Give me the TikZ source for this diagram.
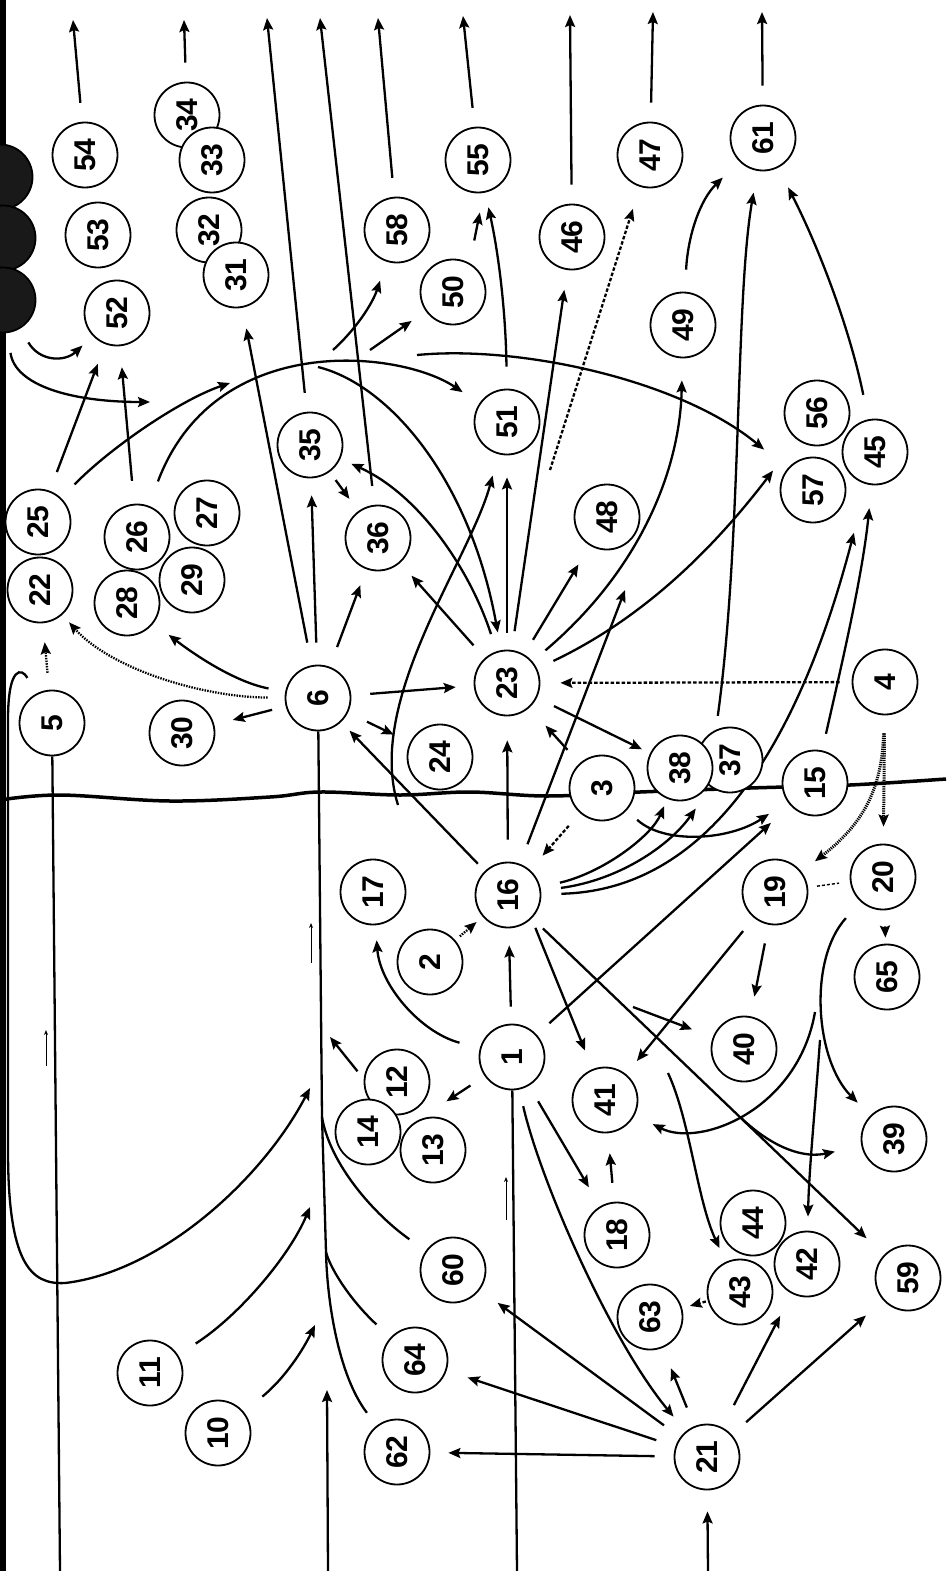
\documentclass[tikz,border=0pt]{standalone}
\usepackage{fontspec}
\setsansfont{Liberation Sans}
\usetikzlibrary{arrows.meta,backgrounds}
\tikzset{
  num/.style={circle,draw,line width=1.8pt,fill=white,minimum size=65pt,inner sep=0pt,
              font=\fontsize{30}{30}\selectfont\sffamily\bfseries,rotate=90},
  blot/.style={circle,draw,line width=1.8pt,fill=black!90,minimum size=65pt,inner sep=0pt},
  arr/.style={-{Stealth[length=12pt,width=10pt,inset=2pt]},line width=2.3pt},
  ln/.style={line width=2.3pt},
  dsharr/.style={arr,dash pattern=on 3.5pt off 2pt},
  hatcharr/.style={arr,line width=3pt,dash pattern=on 1.2pt off 1pt},
  dotarr/.style={arr,dash pattern=on 1.5pt off 1.2pt},
  dshln/.style={line width=1.4pt,dash pattern=on 3pt off 2pt},
  flowtick/.style={-{Stealth[length=5pt,width=4pt]},line width=1pt}
}
\begin{document}
\begin{tikzpicture}[x=1pt,y=-1pt]
  \useasboundingbox (0,0) rectangle (946,1571);
  % blotted circles at the edge
  \node[blot] (n7) at (0,177) {};
  \node[blot] (n8) at (3,238) {};
  \node[blot] (n9) at (3,300) {};
  % numbered circles
  \node[num] (n54) at (85,155) {54};
  \node[num] (n53) at (98,235) {53};
  \node[num] (n52) at (117,313) {52};
  \node[num] (n34) at (187,115) {34};
  \node[num] (n33) at (212,160) {33};
  \node[num] (n32) at (209,230) {32};
  \node[num] (n31) at (236,275) {31};
  \node[num] (n58) at (397,230) {58};
  \node[num] (n50) at (453,292) {50};
  \node[num] (n55) at (478,160) {55};
  \node[num] (n46) at (572,237) {46};
  \node[num] (n47) at (650,155) {47};
  \node[num] (n61) at (763,138) {61};
  \node[num] (n49) at (683,325) {49};
  \node[num] (n51) at (507,422) {51};
  \node[num] (n48) at (607,517) {48};
  \node[num] (n56) at (817,413) {56};
  \node[num] (n45) at (875,452) {45};
  \node[num] (n57) at (813,490) {57};
  \node[num] (n35) at (310,445) {35};
  \node[num] (n36) at (378,538) {36};
  \node[num] (n25) at (38,522) {25};
  \node[num] (n22) at (40,590) {22};
  \node[num] (n26) at (137,537) {26};
  \node[num] (n27) at (207,513) {27};
  \node[num] (n28) at (127,603) {28};
  \node[num] (n29) at (192,580) {29};
  \node[num] (n30) at (182,733) {30};
  \node[num] (n6)  at (318,698) {6};
  \node[num] (n5)  at (52,723) {5};
  \node[num] (n24) at (440,757) {24};
  \node[num] (n23) at (507,683) {23};
  \node[num] (n4)  at (885,682) {4};
  \node[num] (n3)  at (602,788) {3};
  \node[num] (n37) at (730,760) {37};
  \node[num] (n38) at (680,768) {38};
  \node[num] (n15) at (815,783) {15};
  \node[num] (n16) at (508,895) {16};
  \node[num] (n17) at (373,892) {17};
  \node[num] (n2)  at (430,962) {2};
  \node[num] (n19) at (775,892) {19};
  \node[num] (n20) at (883,877) {20};
  \node[num] (n65) at (887,977) {65};
  \node[num] (n1)  at (512,1057) {1};
  \node[num] (n12) at (397,1082) {12};
  \node[num] (n14) at (368,1132) {14};
  \node[num] (n13) at (433,1150) {13};
  \node[num] (n41) at (605,1100) {41};
  \node[num] (n40) at (744,1049) {40};
  \node[num] (n39) at (894,1139) {39};
  \node[num] (n18) at (617,1235) {18};
  \node[num] (n44) at (753,1223) {44};
  \node[num] (n42) at (807,1264) {42};
  \node[num] (n43) at (740,1292) {43};
  \node[num] (n63) at (650,1317) {63};
  \node[num] (n59) at (908,1278) {59};
  \node[num] (n21) at (707,1457) {21};
  \node[num] (n60) at (453,1270) {60};
  \node[num] (n64) at (415,1360) {64};
  \node[num] (n62) at (397,1452) {62};
  \node[num] (n11) at (150,1373) {11};
  \node[num] (n10) at (218,1433) {10};

  \begin{scope}[on background layer]
    \fill[white] (0,0) rectangle (946,1571);
    \fill (0,0) rectangle (6,1571);
    \draw[line width=3.5pt] plot[smooth,tension=0.6] coordinates {(0,800) (60,795) (170,801)
      (270,797) (320,792) (400,795) (470,792) (547,796) (640,792) (750,788) (850,785) (946,779)};
    % free ends
    \coordinate (t54) at (73,20);  \coordinate (t34) at (184,20); \coordinate (t35) at (267,18);
    \coordinate (t36) at (320,18); \coordinate (t58) at (378,18); \coordinate (t55) at (463,16);
    \coordinate (t46) at (570,15); \coordinate (t47) at (653,12); \coordinate (t61) at (762,12);
    \coordinate (b5) at (60,1571);  \coordinate (b1) at (517,1571);
    \coordinate (b6) at (328,1571); \coordinate (b21) at (708,1571); \coordinate (a6) at (327,1390);
    \coordinate (k1) at (322,1117); \coordinate (k2) at (326,1252);
    \coordinate (e11) at (310,1207); \coordinate (e10) at (315,1325);
    \coordinate (e12) at (330,1037); \coordinate (e5) at (310,1088);
    \coordinate (e25) at (230,383); \coordinate (e9) at (150,402); \coordinate (e16) at (625,590);
    \coordinate (a23) at (318,367); \coordinate (a58) at (333,350);
    \coordinate (a50) at (370,350); \coordinate (a57) at (417,355);
    \coordinate (d47) at (550,470); \coordinate (s51) at (398,805);
    \coordinate (br39) at (740,1117); \coordinate (br41) at (815,1012); \coordinate (br42) at (820,1040);
    \coordinate (f40) at (633,1007); \coordinate (f43) at (668,1073);
    % up the page
    \foreach \a/\b in {n54/t54,n34/t34,n35/t35,n36/t36,n58/t58,n55/t55,n46/t46,n47/t47,n61/t61}
      \draw[arr,shorten <=19pt] (\a) -- (\b);
    % from the bottom edge
    \draw[ln] (b5) -- (n5);
    \draw[ln] (b1) -- (n1);
    \draw[arr] (b6) -- (a6);
    \draw[arr,shorten >=21pt] (b21) -- (n21);
    \draw[flowtick] (46,1066) -- (46,1030);
    \draw[flowtick] (311,963) -- (311,923);
    \draw[flowtick] (506,1220) -- (506,1177);
    % trunk under 6
    \draw[ln] (n6) -- (k1) -- (k2);
    \draw[ln,shorten <=20pt] (n60) .. controls (375,1215) and (330,1165) .. (k1);
    \draw[ln,shorten <=19pt] (n64) .. controls (350,1300) and (330,1268) .. (k2);
    \draw[ln,shorten <=16pt] (n62) .. controls (338,1375) and (327,1300) .. (k2);
    \draw[arr,shorten <=21pt] (n11) .. controls (240,1315) and (290,1255) .. (e11);
    \draw[arr,shorten <=24pt] (n10) .. controls (285,1378) and (303,1350) .. (e10);
    \draw[arr,shorten <=10pt] (n12.85) -- (e12);
    \draw[arr,shorten <=18pt] (n5) .. controls (22,668) and (8,665) .. (8,720) -- (8,1150)
      .. controls (8,1262) and (30,1285) .. (65,1283) .. controls (160,1272) and (262,1180) .. (e5);
    \draw[dotarr,shorten <=17pt,shorten >=19pt] (n5) -- (n22);
    % top left
    \draw[arr,shorten <=16pt,shorten >=14pt] (n9) .. controls (40,362) and (65,362) .. (n52);
    \draw[arr,shorten <=20pt] (n9) .. controls (15,385) and (70,402) .. (e9);
    \draw[arr,shorten <=20pt,shorten >=21pt] (n25) -- (n52);
    \draw[arr,shorten <=23pt,shorten >=21pt] (n26) -- (n52);
    \draw[arr,shorten <=19pt] (n25) .. controls (110,448) and (180,400) .. (e25);
    \draw[arr,shorten <=26pt,shorten >=20pt] (n26) .. controls (215,330) and (400,350) .. (n51);
    \draw[arr,shorten >=20pt] (a58) .. controls (355,330) and (372,305) .. (n58);
    \draw[arr,shorten >=17pt] (a50) -- (n50);
    \draw[arr,shorten >=30pt] (a57) .. controls (520,345) and (680,380) .. (n57);
    \draw[arr,shorten >=18pt] (a23) .. controls (390,385) and (470,480) .. (n23);
    % 6
    \draw[dotarr,shorten <=17pt,shorten >=10pt] (n6) .. controls (200,697) and (110,668) .. (n22);
    \draw[arr,shorten <=17pt,shorten >=19pt] (n6) .. controls (235,682) and (195,655) .. (n28);
    \draw[arr,shorten <=14pt,shorten >=19pt] (n6) -- (n30);
    \draw[arr,shorten <=22pt,shorten >=17pt] (n6) -- (n35);
    \draw[arr,shorten <=21pt,shorten >=17pt] (n6) -- (n36);
    \draw[arr,shorten <=23pt,shorten >=21pt] (n6) -- (n31);
    \draw[arr,shorten <=19pt,shorten >=18pt] (n6) -- (n23);
    \draw[arr,shorten <=21pt,shorten >=18pt] (n6) -- (n24);
    \draw[arr,shorten <=10pt,shorten >=12pt] (n16) -- (n6);
    \draw[arr,shorten <=10pt,shorten >=15pt] (n35) -- (n36);
    % 23
    \draw[arr,shorten <=17pt,shorten >=17pt] (n23) -- (n36);
    \draw[arr,shorten <=18pt,shorten >=12pt] (n23) .. controls (470,570) and (420,495) .. (n35);
    \draw[arr,shorten <=17pt,shorten >=22pt] (n23) -- (n51);
    \draw[arr,shorten <=19pt,shorten >=20pt] (n23) -- (n46);
    \draw[arr,shorten <=17pt,shorten >=22pt] (n23) -- (n48);
    \draw[arr,shorten <=17pt,shorten >=22pt] (n23) .. controls (640,570) and (680,470) .. (n49);
    \draw[arr,shorten <=18pt,shorten >=39pt] (n23) .. controls (650,615) and (720,540) .. (n56);
    \draw[arr,shorten <=19pt,shorten >=9pt] (n23) -- (n38);
    \draw[arr,shorten >=22pt] (s51) .. controls (365,700) and (470,560) .. (n51);
    \draw[dsharr,shorten >=23pt] (d47) -- (n47);
    % to 55 and 61
    \draw[arr,shorten <=22pt,shorten >=15pt] (n51) .. controls (506,320) and (500,260) .. (n55);
    \draw[arr,shorten <=23pt,shorten >=20pt] (n50.-30) -- (n55.190);
    \draw[arr,shorten <=22pt,shorten >=23pt] (n49) .. controls (688,235) and (700,200) .. (n61);
    \draw[arr,shorten <=14pt,shorten >=22pt] (n37.25) .. controls (742,540) and (735,300) .. (n61);
    \draw[arr,shorten <=25pt,shorten >=22pt] (n45) .. controls (850,330) and (820,250) .. (n61);
    % 3, 4, 15
    \draw[arr,shorten <=18pt,shorten >=24pt] (n3) -- (n23);
    \draw[dsharr,shorten <=17pt,shorten >=19pt] (n3) -- (n16);
    \draw[arr,shorten <=14pt,shorten >=22pt] (n3) .. controls (665,845) and (730,840) .. (n15);
    \draw[arr,shorten <=17pt,shorten >=23pt] (n15) .. controls (838,680) and (862,580) .. (n45);
    \draw[dsharr,shorten <=12pt,shorten >=20pt] (n4) -- (n23);
    \draw[hatcharr,shorten <=18pt,shorten >=17pt] (n4) -- (n20);
    \draw[hatcharr,shorten <=18pt,shorten >=17pt] (n4) .. controls (882,790) and (862,825) .. (n19);
    % 16
    \draw[arr,shorten <=22pt,shorten >=24pt] (n16) -- (n23);
    \draw[arr,shorten <=21pt] (n16) -- (e16);
    \draw[arr,shorten <=20pt,shorten >=8pt] (n16) .. controls (605,872) and (652,835) .. (n38);
    \draw[arr,shorten <=20pt,shorten >=26pt] (n16) .. controls (620,880) and (670,845) .. (n37);
    \draw[arr,shorten <=20pt,shorten >=50pt] (n16) .. controls (720,890) and (805,720) .. (n45);
    \draw[arr,shorten <=10pt,shorten >=20pt] (n16.-135) -- (n41);
    \draw[arr,shorten <=15pt,shorten >=24pt] (n16) -- (n59);
    \draw[arr,shorten >=27pt] (br39) .. controls (775,1150) and (805,1158) .. (n39);
    \draw[dotarr,shorten <=6pt,shorten >=8pt] (n2) -- (n16);
    % 1
    \draw[arr,shorten <=17pt,shorten >=17pt] (n1) -- (n16);
    \draw[arr,shorten <=21pt,shorten >=15pt] (n1) .. controls (420,1032) and (380,985) .. (n17);
    \draw[arr,shorten <=17pt,shorten >=36pt] (n1.125) -- (n13.30);
    \draw[arr,shorten <=17pt,shorten >=26pt] (n1) -- (n15);
    \draw[arr,shorten <=18pt,shorten >=22pt] (n1) -- (n18);
    \draw[arr,shorten <=17pt,shorten >=19pt] (n1) .. controls (540,1180) and (610,1340) .. (n21);
    \draw[arr,shorten <=19pt,shorten >=20pt] (n18) -- (n41);
    % 19, 20
    \draw[dshln,shorten <=9pt,shorten >=11pt] (n19) -- (n20);
    \draw[arr,shorten <=16pt,shorten >=6pt] (n20) -- (n65);
    \draw[arr,shorten <=22pt,shorten >=18pt] (n20) .. controls (808,960) and (815,1060) .. (n39);
    \draw[arr,shorten >=20pt] (br41) .. controls (798,1110) and (700,1148) .. (n41);
    \draw[arr,shorten >=14pt] (br42) .. controls (815,1110) and (809,1170) .. (n42);
    \draw[arr,shorten <=17pt,shorten >=17pt] (n19) -- (n41);
    \draw[arr,shorten <=19pt,shorten >=20pt] (n19) -- (n40);
    \draw[arr,shorten >=22pt] (f40) -- (n40);
    \draw[arr,shorten >=15pt] (f43) .. controls (690,1120) and (697,1200) .. (n43);
    % 21
    \draw[arr,shorten <=19pt,shorten >=18pt] (n21) -- (n62);
    \draw[arr,shorten <=20pt,shorten >=22pt] (n21) -- (n64);
    \draw[arr,shorten <=20pt,shorten >=22pt] (n21) -- (n60);
    \draw[arr,shorten <=20pt,shorten >=22pt] (n21) -- (n63);
    \draw[arr,shorten <=25pt,shorten >=25pt] (n21) -- (n42);
    \draw[arr,shorten <=19pt,shorten >=23pt] (n21) -- (n59);
    \draw[dsharr,shorten <=2pt,shorten >=8pt] (n43) -- (n63);
  \end{scope}
\end{tikzpicture}
\end{document}
